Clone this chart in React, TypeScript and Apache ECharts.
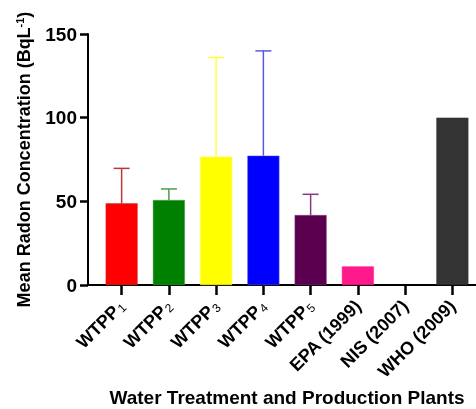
import React, { useEffect, useRef } from "react";
import * as echarts from "echarts";

const categories = ["WTPP1", "WTPP2", "WTPP3", "WTPP4", "WTPP5", "EPA (1999)", "NIS (2007)", "WHO (2009)"];
const means = [48.8, 50.8, 76.7, 77.3, 41.8, 11.1, 0, 100];
const errorTops = [69.7, 57.4, 135.9, 139.9, 54.2, null, null, null];
const barColors = ["#ff0000", "#008000", "#ffff00", "#0000ff", "#5a004f", "#ff1a8c", "#ffffff", "#333333"];
const errColors = ["#b83838", "#4c9c4c", "#ffff40", "#5a5ae0", "#8a3a80", "#ff1a8c", "#ffffff", "#333333"];
const yTicks = [0, 50, 100, 150];

export default function App() {
  const ref = useRef<HTMLDivElement>(null);
  useEffect(() => {
    if (!ref.current) return;
    const chart = echarts.init(ref.current, null, { renderer: "svg" });
    const font = "'Liberation Sans', Arial, sans-serif";
    const errData = categories
      .map((c, i) => (errorTops[i] == null ? null : [i, means[i], errorTops[i] as number]))
      .filter((d) => d !== null) as number[][];
    chart.setOption({
      animation: false,
      grid: { left: 98, right: 0, top: 34, bottom: 124, containLabel: false, outerBoundsMode: "none" },
      xAxis: {
        type: "category",
        data: categories,
        axisLine: { show: true, lineStyle: { color: "#000", width: 2 } },
        axisTick: { show: true, inside: false, alignWithLabel: true, length: 10, lineStyle: { color: "#000", width: 2.5, opacity: 1 } },
        axisLabel: {
          rotate: 45,
          margin: 18,
          interval: 0,
          fontFamily: font,
          fontWeight: "bold",
          fontSize: 18,
          color: "#000",
          formatter: (v: string) => {
            const m = /^WTPP(\d)$/.exec(v);
            return m ? `{b|WTPP}{s|${m[1]}}` : `{b|${v}}`;
          },
          rich: {
            b: { fontFamily: font, fontWeight: "bold", fontSize: 18, color: "#000" },
            s: { fontFamily: font, fontWeight: "normal", fontSize: 12, color: "#000", padding: [8, 0, 0, 1] },
          },
        },
        name: "Water Treatment and Production Plants",
        nameLocation: "middle",
        nameGap: 103,
        nameTextStyle: { fontFamily: font, fontWeight: "bold", fontSize: 19, color: "#000" },
      },
      yAxis: {
        type: "value",
        min: yTicks[0],
        max: yTicks[yTicks.length - 1],
        interval: 50,
        offset: 10,
        splitLine: { show: false },
        axisLine: { show: true, lineStyle: { color: "#000", width: 2 } },
        axisTick: { show: true, inside: false, length: 8, lineStyle: { color: "#000", width: 2.5, opacity: 1 } },
        axisLabel: { fontFamily: font, fontWeight: "bold", fontSize: 19, color: "#000", margin: 11 },
        name: "{n|Mean Radon Concentration (BqL}{sup|-1}{n|)}",
        nameLocation: "middle",
        nameGap: 54,
        nameTextStyle: {
          rich: {
            n: { fontFamily: font, fontWeight: "bold", fontSize: 18, color: "#000" },
            sup: { fontFamily: font, fontWeight: "bold", fontSize: 11, color: "#000", padding: [0, 0, 9, 0] },
          },
        },
      },
      graphic: [
        { type: "line", shape: { x1: 87, y1: 285, x2: 99, y2: 285 }, style: { stroke: "#000", lineWidth: 2 } },
      ],
      series: [
        {
          type: "bar",
          barWidth: 32,
          data: means.map((v, i) => ({
            value: v,
            itemStyle: { color: barColors[i], borderColor: errColors[i], borderWidth: i === 6 ? 0 : 0.5 },
          })),
          z: 2,
        },
        {
          type: "custom",
          z: 1,
          data: errData,
          renderItem: (params: any, api: any) => {
            const idx = api.value(0);
            const base = api.coord([idx, api.value(1)]);
            const top = api.coord([idx, api.value(2)]);
            const color = errColors[idx];
            const hw = 8;
            return {
              type: "group",
              children: [
                { type: "line", shape: { x1: base[0], y1: base[1], x2: top[0], y2: top[1] }, style: { stroke: color, lineWidth: 1.5 } },
                { type: "line", shape: { x1: top[0] - hw, y1: top[1], x2: top[0] + hw, y2: top[1] }, style: { stroke: color, lineWidth: 1.5 } },
              ],
            };
          },
        },
      ],
    });
    return () => chart.dispose();
  }, []);
  return <div ref={ref} style={{ position: "fixed", left: 0, top: 0, width: 476, height: 409 }} />;
}
